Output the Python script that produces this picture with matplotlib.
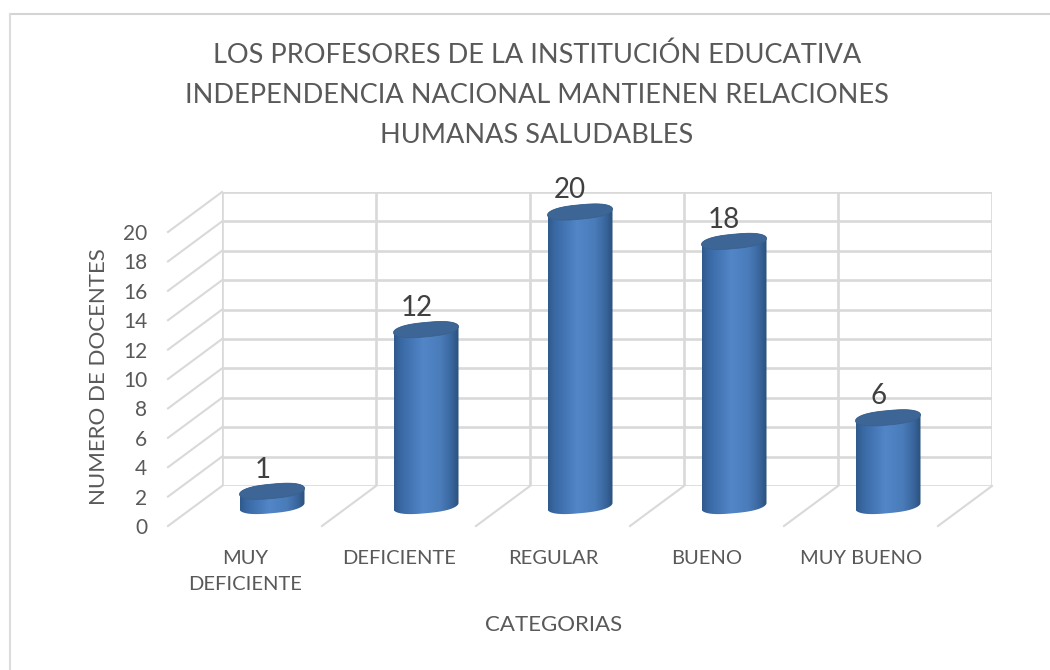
import numpy as np
import matplotlib
matplotlib.use("Agg")
import matplotlib.pyplot as plt
from matplotlib.colors import LinearSegmentedColormap
from matplotlib.patches import Polygon
from matplotlib.lines import Line2D

categories = ["MUY\nDEFICIENTE", "DEFICIENTE", "REGULAR", "BUENO", "MUY BUENO"]
values = [1, 12, 20, 18, 6]
y_ticks = list(range(0, 21, 2))
title = ("LOS PROFESORES DE LA INSTITUCIÓN EDUCATIVA\n"
         "INDEPENDENCIA NACIONAL MANTIENEN RELACIONES\n"
         "HUMANAS SALUDABLES")
x_label = "CATEGORIAS"
y_label = "NUMERO DE DOCENTES"

W, H = 1050, 670
GRID = "#d9d9d9"
TEXT = "#595959"
plt.rcParams["font.family"] = ["Lato", "DejaVu Sans"]

fig = plt.figure(figsize=(W / 100, H / 100), dpi=100, facecolor="white")

def axes_px(x0, x1, ytop, ybot):
    return fig.add_axes([x0 / W, 1 - ybot / H, (x1 - x0) / W, (ybot - ytop) / H])

XL, XR, YT, YB = 222, 992, 192, 486
DX, DY = 54, 40
ax = axes_px(XL, XR, YT, YB)
front = axes_px(XL - DX, XR - DX, YT + DY, YB + DY)
for a in (ax, front):
    a.set_xlim(-0.5, 4.5)
    a.set_ylim(0, 20)
    a.patch.set_alpha(0)
    for s in a.spines.values():
        s.set_visible(False)

sx = (XR - XL) / 5.0   # px per category
sy = (YB - YT) / 20.0  # px per unit

# Wall grid and floor / side diagonals
ax.set_xticks(np.arange(-0.5, 5, 1))
ax.set_yticks(y_ticks)
ax.set_xticklabels([])
ax.set_yticklabels([])
ax.tick_params(length=0)
ax.grid(True, color=GRID, lw=1.9)
ax.set_axisbelow(True)
for v in y_ticks:
    ax.plot([-0.5, -0.5 - DX / sx], [v, v - DY / sy], color=GRID, lw=1.5,
            clip_on=False, zorder=1)
for c in np.arange(0.5, 5, 1):
    ax.plot([c, c - DX / sx], [0, -DY / sy], color=GRID, lw=1.5, clip_on=False, zorder=1)

# Front plane axis carries the tick labels
front.set_xticks(range(len(categories)))
front.set_xticklabels(categories, fontsize=14.5, color=TEXT, linespacing=1.65)
front.set_yticks(y_ticks)
front.tick_params(axis="y", length=0, pad=15, labelsize=15, labelcolor=TEXT)
front.tick_params(axis="x", length=0, pad=17)

# Cylinders
cmap = LinearSegmentedColormap.from_list(
    "cyl", [(0, "#2f5a8c"), (0.12, "#3a6aa6"), (0.45, "#5286c8"),
            (0.72, "#4a7cba"), (0.9, "#38649a"), (1, "#2b507c")])
grad = np.linspace(0, 1, 256).reshape(1, -1)
A, B, SH = 32.5, 7.2, 3.0
OFFX, OFFY = -27 / sx, -20 / sy

def ell(t):
    c = np.cos(t)
    s = np.sin(t)
    c = np.sign(c) * np.abs(c) ** 0.75
    return A * c / sx, (B * s + SH * c) / sy

for i, v in enumerate(values):
    cx = i + OFFX
    base = OFFY
    top = OFFY + v
    lo = np.linspace(np.pi, 2 * np.pi, 60)
    up = np.linspace(0, np.pi, 60)
    lx, ly = ell(lo)
    ux, uy = ell(up)
    body = np.vstack([np.column_stack([cx + lx, base + ly]),
                      np.column_stack([cx + ux, top + uy])])
    poly = Polygon(body, closed=True, fc="none", ec="none", transform=ax.transData,
                   clip_on=False)
    ax.add_patch(poly)
    im = ax.imshow(grad, cmap=cmap, aspect="auto", zorder=3, interpolation="bilinear",
                   extent=[cx - A / sx, cx + A / sx, base - 10 / sy, top + 10 / sy])
    im.set_clip_path(poly)
    im.set_clip_box(fig.bbox)
    t = np.linspace(0, 2 * np.pi, 120)
    ex, ey = ell(t)
    ax.add_patch(Polygon(np.column_stack([cx + ex, top + ey]), closed=True,
                         fc="#3d6595", ec="#3a628f", lw=0.6, zorder=4, clip_on=False))
    ax.annotate(str(v), xy=(cx, top), xytext=(-7, 15.5), textcoords="offset points",
                ha="center", va="center", fontsize=20, color="#404040",
                zorder=5, annotation_clip=False)

ax.set_xlim(-0.5, 4.5)
ax.set_ylim(0, 20)

# Chart texts
fig.text(537 / W, 1 - 95 / H, title, ha="center", va="center", fontsize=19.55,
         color=TEXT, linespacing=1.76)
fig.text(554 / W, 1 - 625 / H, x_label, ha="center", va="center", fontsize=16, color=TEXT)
fig.text(99 / W, 1 - 377 / H, y_label, ha="center", va="center", rotation=90,
         fontsize=16, color=TEXT)

# Chart frame: only its top and left edges are in the picture
fig.add_artist(Line2D([9.5 / W, 1], [1 - 14 / H, 1 - 14 / H], color="#d4d4d4", lw=1.5,
                      transform=fig.transFigure))
fig.add_artist(Line2D([9.5 / W, 9.5 / W], [0, 1 - 14 / H], color="#dcdcdc", lw=1.5,
                      transform=fig.transFigure))

fig.savefig("out.png", dpi=100)
